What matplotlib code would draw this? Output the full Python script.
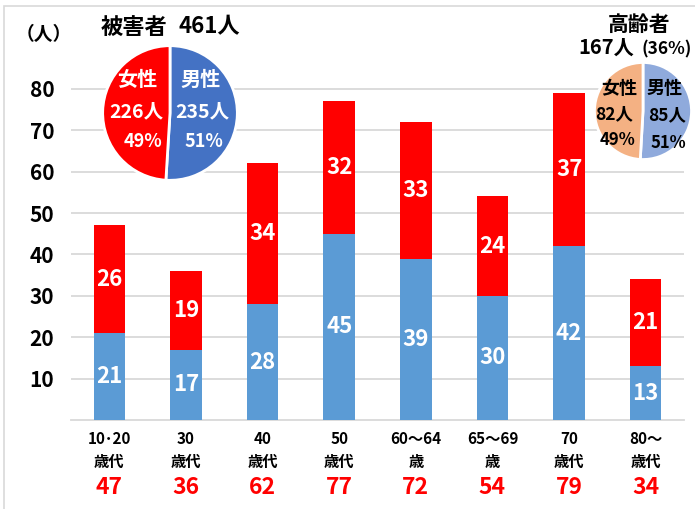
import matplotlib
matplotlib.use("Agg")
import matplotlib.pyplot as plt
import matplotlib.transforms as mtransforms
from matplotlib.patches import Rectangle

plt.rcParams['font.family'] = ['Noto Sans CJK JP', 'DejaVu Sans']
plt.rcParams['font.weight'] = 'bold'

categories = ["10･20\n歳代", "30\n歳代", "40\n歳代", "50\n歳代", "60～64\n歳", "65～69\n歳", "70\n歳代", "80～\n歳代"]
male = [21, 17, 28, 45, 39, 30, 42, 13]
female = [26, 19, 34, 32, 33, 24, 37, 21]
totals = [47, 36, 62, 77, 72, 54, 79, 34]
yticks = [10, 20, 30, 40, 50, 60, 70, 80]

all_counts = [226, 235]  # female, male
all_pct = [49, 51]
old_counts = [82, 85]
old_pct = [49, 51]

W, H = 695, 509


def fx(x):
    return x / W


def fy(y):
    return 1 - y / H


fig = plt.figure(figsize=(W / 100, H / 100), dpi=100)
fig.patches.append(Rectangle((fx(4), -0.1), 1.2, fy(6) + 0.1, transform=fig.transFigure,
                             fill=False, edgecolor="#D9D9D9", linewidth=1.2))

# bar axes: x 71..684 px, y=0 at 420 px, 4.14 px per unit
ax = fig.add_axes([fx(71), fy(420), (684 - 71) / W, 85 * 4.14 / H])
x = list(range(len(categories)))
ax.bar(x, male, width=0.41, color="#5B9BD5", zorder=3)
ax.bar(x, female, width=0.41, bottom=male, color="#FF0000", zorder=3)
ax.set_xlim(-0.5, len(categories) - 0.5)
ax.set_ylim(0, 85)
ax.set_yticks(yticks)
ax.set_yticklabels([str(v) for v in yticks], fontsize=15, fontweight="bold")
ax.yaxis.grid(True, color="#D9D9D9", linewidth=1.3, zorder=0)
ax.tick_params(axis="both", length=0)
ax.tick_params(axis="y", pad=12)
for s in ["top", "right", "left"]:
    ax.spines[s].set_visible(False)
ax.spines["bottom"].set_color("#D9D9D9")
ax.spines["bottom"].set_linewidth(1.3)
ax.set_xticks(x)
ax.set_xticklabels(categories, fontsize=11, fontweight="bold", linespacing=1.55)
ax.tick_params(axis="x", pad=8)

for i in x:
    ax.text(i, male[i] / 2, str(male[i]), ha="center", va="center", color="white",
            fontsize=16, fontweight="bold", zorder=4)
    ax.text(i, male[i] + female[i] / 2, str(female[i]), ha="center", va="center",
            color="white", fontsize=16, fontweight="bold", zorder=4)

trans = mtransforms.blended_transform_factory(ax.transData, fig.transFigure)
for i in x:
    ax.text(i, fy(488), str(totals[i]), transform=trans, ha="center", va="center",
            color="#FF0000", fontsize=16.5, fontweight="bold")

fig.text(fx(44), fy(34), "（人）", ha="center", va="center", fontsize=13.5)
fig.text(fx(134), fy(27), "被害者", ha="center", va="center", fontsize=16)
fig.text(fx(209), fy(27), "461人", ha="center", va="center", fontsize=16)

# pie: all victims
r1 = 68
pax = fig.add_axes([fx(170 - r1), fy(113 + r1), 2 * r1 / W, 2 * r1 / H])
pax.pie([all_counts[1], all_counts[0]], colors=["#4472C4", "#FF0000"], startangle=90,
        counterclock=False, wedgeprops=dict(edgecolor="white", linewidth=2))
pax.set_aspect("auto")
pax.set_xlim(-1.01, 1.01)
pax.set_ylim(-1.01, 1.01)
fig.text(fx(137), fy(79), "女性", ha="center", va="center", color="white", fontsize=14.5)
fig.text(fx(136), fy(112), "%d人" % all_counts[0], ha="center", va="center", color="white", fontsize=14)
fig.text(fx(143), fy(142), "%d%%" % all_pct[0], ha="center", va="center", color="white", fontsize=13)
fig.text(fx(201), fy(79), "男性", ha="center", va="center", color="white", fontsize=14.5)
fig.text(fx(202), fy(112), "%d人" % all_counts[1], ha="center", va="center", color="white", fontsize=14)
fig.text(fx(204), fy(142), "%d%%" % all_pct[1], ha="center", va="center", color="white", fontsize=13)

# pie: elderly
r2 = 49
pax2 = fig.add_axes([fx(643 - r2), fy(111 + r2), 2 * r2 / W, 2 * r2 / H])
pax2.pie([old_counts[1], old_counts[0]], colors=["#8FAADC", "#F4B183"], startangle=90,
         counterclock=False, wedgeprops=dict(edgecolor="white", linewidth=2))
pax2.set_aspect("auto")
pax2.set_xlim(-1.01, 1.01)
pax2.set_ylim(-1.01, 1.01)
fig.text(fx(639), fy(24), "高齢者", ha="center", va="center", fontsize=15)
fig.text(fx(606), fy(54), "167人", ha="center", va="baseline", fontsize=14.5)
fig.text(fx(667), fy(54), "(36%)", ha="center", va="baseline", fontsize=12.5)
fig.text(fx(619), fy(89), "女性", ha="center", va="center", color="black", fontsize=13)
fig.text(fx(614), fy(114), "%d人" % old_counts[0], ha="center", va="center", color="black", fontsize=12.5)
fig.text(fx(617), fy(140), "%d%%" % old_pct[0], ha="center", va="center", color="black", fontsize=12)
fig.text(fx(665), fy(89), "男性", ha="center", va="center", color="black", fontsize=13)
fig.text(fx(667), fy(115), "%d人" % old_counts[1], ha="center", va="center", color="black", fontsize=12.5)
fig.text(fx(668), fy(143), "%d%%" % old_pct[1], ha="center", va="center", color="black", fontsize=12)

fig.savefig("out.png", dpi=100)
